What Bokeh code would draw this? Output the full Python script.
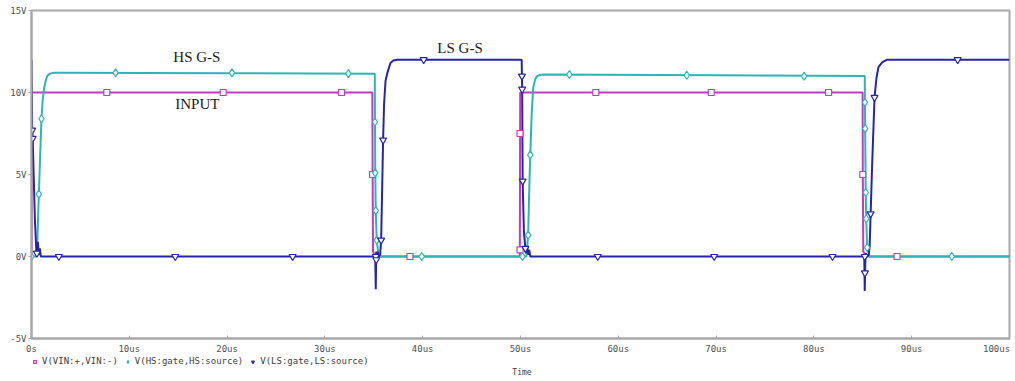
from bokeh.plotting import figure
from bokeh.layouts import column
from bokeh.models import Range1d, FixedTicker, Legend, LegendItem
from bokeh.core.properties import value
from bokeh.embed import file_html
from bokeh.resources import INLINE

# ---------------- data (time in us, volts) ----------------
in_t = [0.0, 0.02, 34.85, 34.88, 34.92, 35.0, 35.3, 49.93, 49.97, 84.98, 85.0, 85.05, 85.15, 85.4, 100.0]
in_v = [0.0, 10.0, 10.0, 5.0, 0.3, 0.2, 0.0, 0.0, 10.0, 10.0, 5.0, 0.3, 0.2, 0.0, 0.0]

hs_t = [0.0, 0.48, 0.6, 0.75, 0.9, 1.02, 1.15, 1.3, 1.45, 1.6, 1.9, 2.3, 3.0, 20.0, 35.1,
        35.12, 35.15, 35.2, 35.3, 35.5, 50.6, 50.78, 50.9, 51.0, 51.15, 51.3, 51.5, 51.7, 52.0,
        52.4, 70.0, 85.2, 85.22, 85.24, 85.3, 85.35, 85.45, 85.7, 100.0]
hs_v = [0.0, 0.0, 1.0, 3.8, 6.4, 8.4, 9.6, 10.3, 10.7, 11.0, 11.15, 11.2, 11.2, 11.18, 11.15,
        8.2, 5.1, 2.8, 1.0, 0.0, 0.0, 1.3, 4.2, 6.2, 8.8, 10.3, 10.8, 11.0, 11.07,
        11.1, 11.05, 11.0, 9.4, 7.8, 3.9, 2.3, 0.55, 0.0, 0.0]

ls_t = [0.0, 0.07, 0.12, 0.35, 0.48, 0.55, 0.65, 0.75, 0.85, 0.95, 1.2, 35.15, 35.2, 35.25,
        35.3, 35.4, 35.5, 35.65, 35.75, 35.85, 35.95, 36.05, 36.2, 36.37, 36.7, 37.0, 37.4,
        50.12, 50.15, 50.17, 50.22, 50.35, 50.5, 50.6, 50.7, 50.8, 50.9, 51.0, 51.3,
        85.15, 85.2, 85.25, 85.3, 85.4, 85.6, 85.7, 85.8, 85.95, 86.2, 86.4, 86.6, 87.0, 87.5, 100.0]
ls_v = [12.0, 7.7, 7.2, 2.2, 0.5, 0.1, 0.9, 0.1, 0.5, 0.0, 0.0, 0.0, -2.0, 0.3,
        -0.2, 0.3, 0.0, 0.1, 1.0, 4.0, 7.1, 9.3, 10.7, 11.15, 11.8, 11.95, 12.0,
        12.0, 11.0, 10.2, 4.6, 1.5, 0.5, 0.2, 0.6, 0.1, 0.4, 0.0, 0.0,
        0.0, -2.1, -0.5, 0.2, 0.0, 0.1, 0.6, 2.6, 5.5, 9.7, 10.9, 11.55, 11.85, 12.0, 12.0]

# marker points along each trace
in_mk_t = [7.7, 19.6, 31.7, 34.88, 38.7, 49.95, 49.95, 57.7, 69.5, 81.5, 85.0, 88.5]
in_mk_v = [10, 10, 10, 5.0, 0, 0.4, 7.5, 10, 10, 10, 5.0, 0]

hs_mk_t = [0.0, 0.75, 1.02, 8.6, 20.5, 32.4, 35.12, 35.15, 35.2, 35.3, 39.9, 50.2, 50.78, 51.0,
           55.0, 67.0, 79.0, 85.22, 85.24, 85.3, 85.35, 85.45, 94.1]
hs_mk_v = [0.0, 3.8, 8.4, 11.2, 11.2, 11.15, 8.2, 5.1, 2.8, 1.0, 0, 0, 1.3, 6.2,
           11.1, 11.05, 11.0, 9.4, 7.8, 3.9, 2.3, 0.55, 0]

ls_mk_t = [0.07, 0.12, 0.55, 2.8, 14.7, 26.7, 35.2, 35.25, 35.75, 35.95, 40.1, 50.15, 50.17,
           50.22, 50.5, 57.9, 69.8, 81.9, 85.2, 85.22, 85.8, 86.2, 94.7]
ls_mk_v = [7.7, 7.2, 0.2, 0, 0, 0, 0, -0.2, 1.0, 7.1, 12, 11.0, 10.2,
           4.6, 0.5, 0, 0, 0, 0, -1.0, 2.6, 9.7, 12]

series_labels = ["V(VIN:+,VIN:-)", "V(HS:gate,HS:source)", "V(LS:gate,LS:source)"]

x_ticks = [0, 10, 20, 30, 40, 50, 60, 70, 80, 90, 100]
x_tick_labels = ["0s", "10us", "20us", "30us", "40us", "50us", "60us", "70us", "80us", "90us", "100us"]
y_ticks = [-5, 0, 5, 10, 15]
y_tick_labels = ["-5V", "0V", "5V", "10V", "15V"]

ann_text = ["HS G-S", "INPUT", "LS G-S"]
ann_t = [14.5, 14.7, 41.5]
ann_v = [12.15, 9.3, 12.7]

x_title = ["Time"]
x_title_t = [50.15]

# ---------------- styling ----------------
C_IN = "#C13BC1"
C_HS = "#2DB5B5"
C_LS = "#2525AA"
MONO = "DejaVu Sans Mono"
GRAY = "#A8A8A8"
NBSP = "\u00a0"

xr = Range1d(0, 100)
p = figure(width=1015, height=356, x_range=xr, y_range=Range1d(-5, 15),
           output_backend="svg", toolbar_location=None,
           min_border_left=31, min_border_right=6, min_border_top=10, min_border_bottom=18)
p.xgrid.visible = False
p.ygrid.visible = False
p.outline_line_color = GRAY
p.outline_line_width = 2
p.background_fill_color = "white"
p.border_fill_color = "white"

p.xaxis.ticker = FixedTicker(ticks=x_ticks)
ov = {t: l for t, l in zip(x_ticks, x_tick_labels)}
# last label sits left of its tick (as in the reference), padded so it stays inside the page
ov[x_ticks[-1]] = x_tick_labels[-1] + NBSP
p.xaxis.major_label_overrides = ov
p.yaxis.ticker = FixedTicker(ticks=y_ticks)
p.yaxis.major_label_overrides = {t: l for t, l in zip(y_ticks, y_tick_labels)}
for ax in (p.xaxis, p.yaxis):
    ax.axis_line_color = GRAY
    ax.axis_line_width = 2
    ax.major_tick_line_color = GRAY
    ax.minor_tick_line_color = None
    ax.major_label_text_font = MONO
    ax.major_label_text_font_size = "9px"
    ax.major_label_text_color = "#505050"
p.xaxis.major_tick_in = 3
p.xaxis.major_tick_out = 1
p.xaxis.major_label_standoff = 4
p.yaxis.major_tick_in = 0
p.yaxis.major_tick_out = 3
p.yaxis.major_label_standoff = 2

p.line(in_t, in_v, line_color=C_IN, line_width=2)
p.line(hs_t, hs_v, line_color=C_HS, line_width=2)
p.line(ls_t, ls_v, line_color=C_LS, line_width=2)

p.scatter(in_mk_t, in_mk_v, marker="square", size=6, line_color=C_IN, fill_color="white", line_width=1.2)
p.scatter(hs_mk_t, hs_mk_v, marker="diamond", size=8, line_color=C_HS, fill_color="white", line_width=1.2)
p.scatter(ls_mk_t, ls_mk_v, marker="inverted_triangle", size=7, line_color=C_LS, fill_color="white", line_width=1.2)

p.text(x=ann_t, y=ann_v, text=ann_text, text_font=value("Liberation Serif"),
       text_font_size="15px", text_baseline="middle", text_align="left", text_color="#1a1a1a")

# ---- strip below the plot: legend and the x title ----
q = figure(width=1015, height=25, x_range=xr, y_range=Range1d(0, 25),
           output_backend="svg", toolbar_location=None, x_axis_type=None, y_axis_type=None,
           min_border_left=31, min_border_right=6, min_border_top=0, min_border_bottom=0)
q.xgrid.visible = False
q.ygrid.visible = False
q.outline_line_color = None
q.background_fill_color = "white"
q.border_fill_color = "white"

# hidden copies of the marker series, used only as legend entries
l_in = q.scatter(in_mk_t, in_mk_v, marker="square", size=6, line_color=C_IN, fill_color="white",
                 line_width=1.2, visible=False)
l_hs = q.scatter(hs_mk_t, hs_mk_v, marker="diamond", size=8, line_color=C_HS, fill_color="white",
                 line_width=1.2, visible=False)
l_ls = q.scatter(ls_mk_t, ls_mk_v, marker="inverted_triangle", size=7, line_color=C_LS, fill_color="white",
                 line_width=1.2, visible=False)

legend = Legend(items=[LegendItem(label=series_labels[0], renderers=[l_in]),
                       LegendItem(label=series_labels[1], renderers=[l_hs]),
                       LegendItem(label=series_labels[2], renderers=[l_ls])],
                orientation="horizontal", location=(0, 15), margin=0, padding=0,
                spacing=6, label_standoff=4, glyph_width=7, glyph_height=9, label_height=9,
                border_line_color=None, background_fill_alpha=0,
                inactive_fill_alpha=0, click_policy="none",
                label_text_font=MONO, label_text_font_size="9px", label_text_color="#404040")
q.add_layout(legend, "center")

q.text(x=x_title_t, y=[9], text=x_title, text_font=value(MONO), text_font_size="8px",
       text_baseline="middle", text_align="center", text_color="#404040")

open("out.html", "w").write(file_html(column(p, q, spacing=0), INLINE))
